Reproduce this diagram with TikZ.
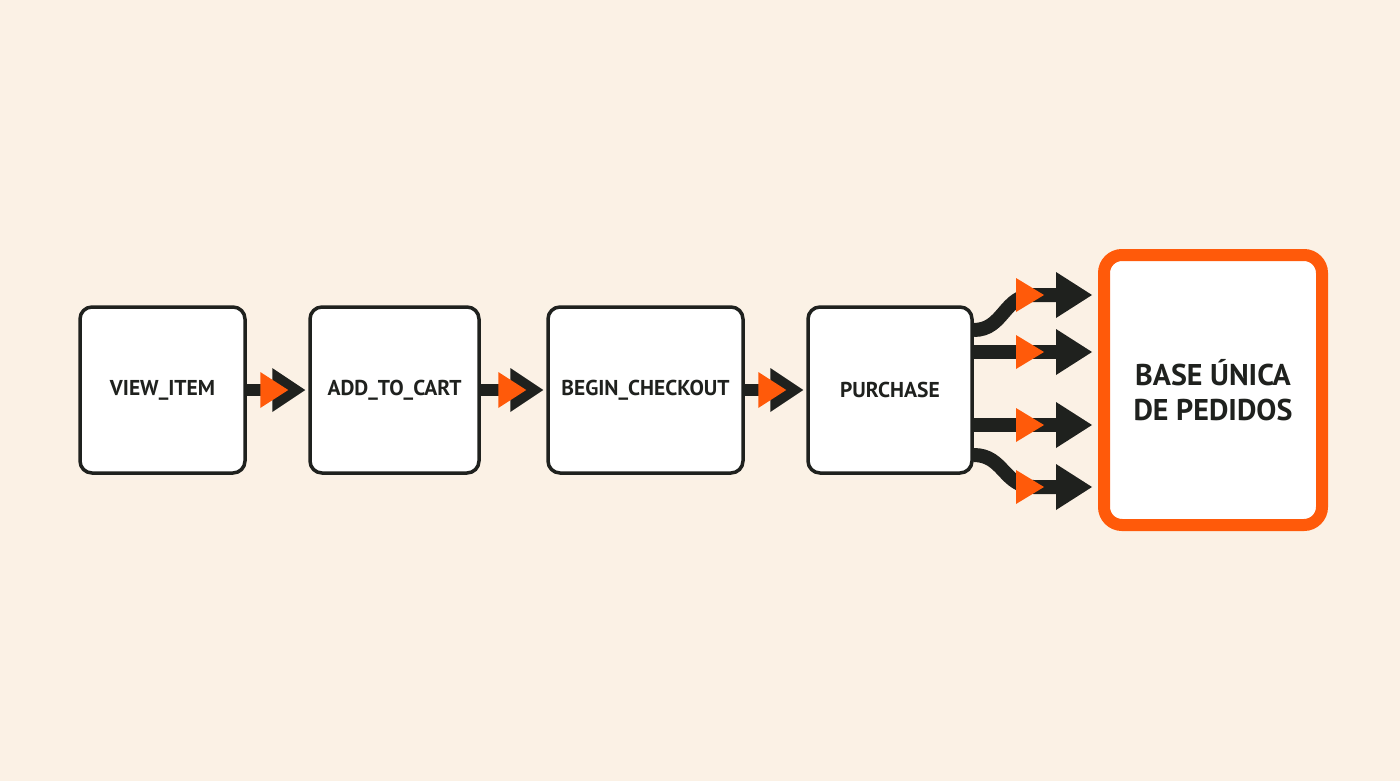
\documentclass[tikz,border=0pt]{standalone}
\usepackage{fontspec}
\setmainfont{PT Sans}
\definecolor{bg}{HTML}{FBF1E5}
\definecolor{ink}{HTML}{1F211E}
\definecolor{org}{HTML}{FF5A0A}
\begin{document}
\begin{tikzpicture}[x=1pt,y=-1pt,
 box/.style={draw=ink,line width=3.5pt,rounded corners=12pt,fill=white,font=\bfseries\fontsize{21.5}{26}\selectfont,text=ink,align=center},
 bar/.style={draw=ink,line width=12pt},
 fbar/.style={draw=ink,line width=14pt}]
\fill[bg] (0,0) rectangle (1400,781);
\useasboundingbox (0,0) rectangle (1400,781);
\node[box,minimum width=165pt,minimum height=166pt] (a) at (162.5,390) {\raisebox{-3pt}{VIEW\_ITEM}};
\node[box,minimum width=169pt,minimum height=166pt] (b) at (394.5,390) {\raisebox{-3pt}{ADD\_TO\_CART}};
\node[box,minimum width=195pt,minimum height=166pt] (c) at (645.5,390) {\raisebox{-3pt}{BEGIN\_CHECKOUT}};
\node[box,minimum width=164pt,minimum height=166pt] (d) at (890,390) {\raisebox{-3pt}{PURCHASE}};
\node[box,draw=org,line width=12pt,minimum width=218pt,minimum height=270pt,rounded corners=18pt,font=\bfseries\fontsize{30}{35}\selectfont] (e) at (1213,390) {BASE ÚNICA\\DE PEDIDOS};
% small arrows
\foreach \s/\t in {a/b,b/c,c/d}{
 \draw[bar] (\s.east) -- ++(32,0) coordinate (m\s);
 \fill[ink] ([xshift=-3pt]\t.west) -- ++(-33,-22) -- ++(0,44) -- cycle;
 \fill[org] ([xshift=-20pt]\t.west) -- ++(-28,-18) -- ++(0,36) -- cycle;
}
% fan
\foreach \y/\sy [count=\i] in {295/330,352/352,425/425,487/455}{
 \coordinate (s\i) at (d.east |- 0,\sy);
 \coordinate (t\i) at ([xshift=-6pt]e.west |- 0,\y);
 \draw[fbar] (s\i) .. controls ++(30,0) and ++(-30,0) .. ([xshift=60pt]s\i |- t\i) -- ([xshift=-30pt]t\i);
 \fill[ink] (t\i) -- ++(-36,-23) -- ++(0,46) -- cycle;
 \fill[org] ([xshift=-48pt]t\i) -- ++(-28,-17) -- ++(0,34) -- cycle;
}
\end{tikzpicture}
\end{document}
